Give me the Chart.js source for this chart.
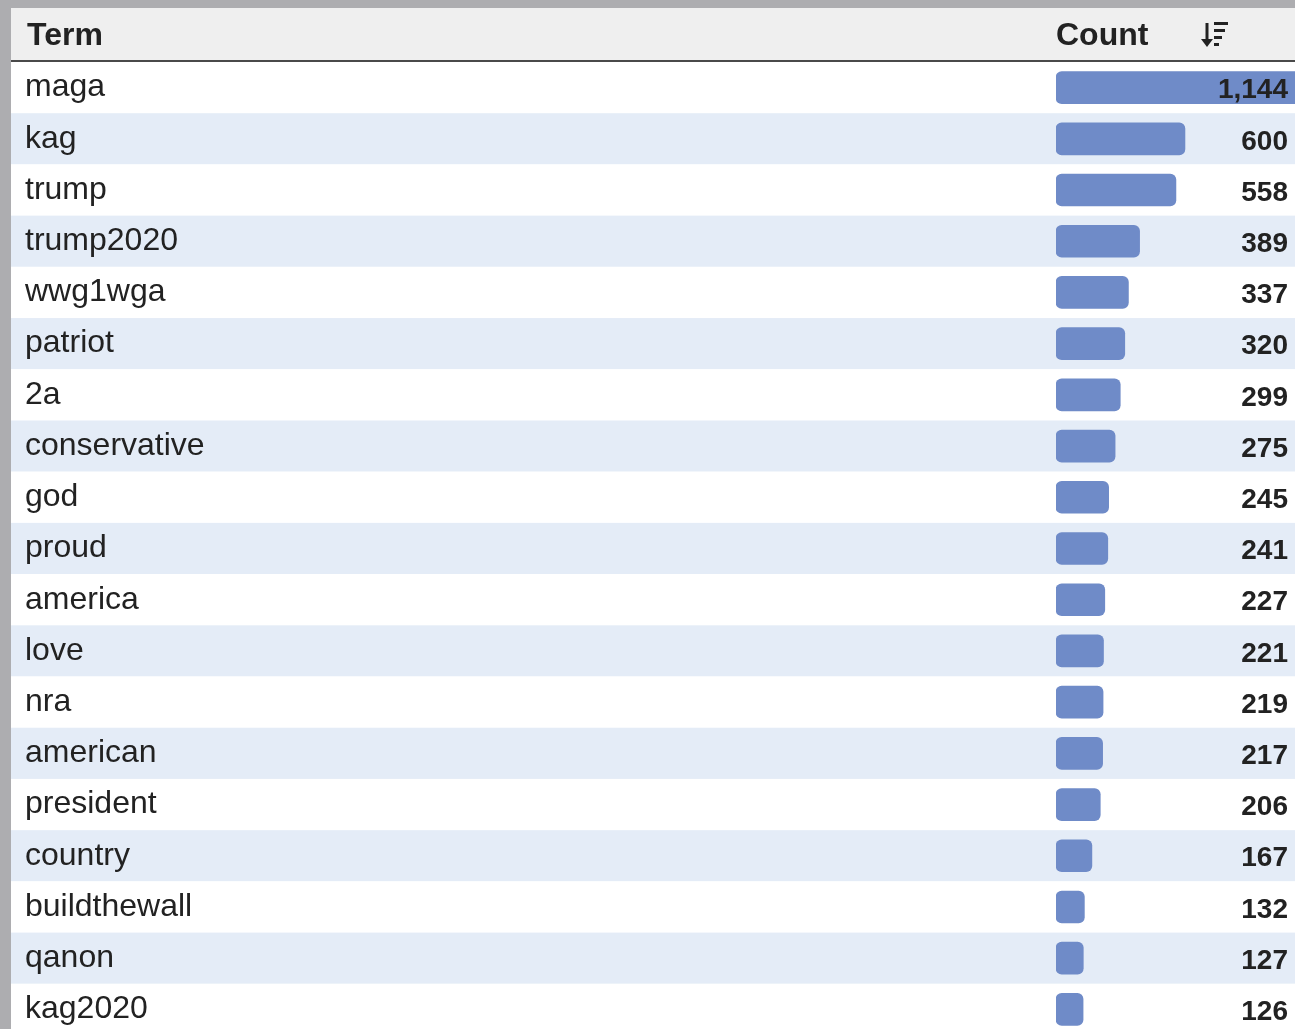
<!DOCTYPE html>
<html>
<head>
<meta charset="utf-8">
<script src="https://cdn.jsdelivr.net/npm/chart.js@4.4.1/dist/chart.umd.min.js"></script>
<style>
  html, body { margin: 0; padding: 0; overflow: hidden; background: #adadb0; }
  #wrap { position: absolute; left: 0; top: 0; width: 1295px; height: 1040px; }
</style>
</head>
<body>
<div id="wrap"><canvas id="termChart" width="1295" height="1040"></canvas></div>
<script>
// term counts, sorted descending
var terms = ["maga", "kag", "trump", "trump2020", "wwg1wga", "patriot", "2a", "conservative", "god", "proud",
  "america", "love", "nra", "american", "president", "country", "buildthewall", "qanon", "kag2020"]
var counts = [1144, 600, 558, 389, 337, 320, 299, 275, 245, 241, 227, 221, 219, 217, 206, 167, 132, 127, 126]
var headers = ["Term", "Count"]

var barColor = "#6f8bc8"
var stripe = "#e4ecf7"
var textColor = "#222222"
var fontFam = "'Liberation Sans', Arial, sans-serif"

//rows, frame and header drawn behind the bars
var tablePlugin = {
  id: 'tableBg',
  beforeDraw: function(chart) {
    var ctx = chart.ctx
    var y = chart.scales.y
    var band = (y.bottom - y.top) / terms.length
    ctx.save()
    ctx.fillStyle = "#adadb0"
    ctx.fillRect(0, 0, chart.width, chart.height)
    ctx.fillStyle = "#ffffff"
    ctx.fillRect(11, 8, chart.width - 11, chart.height - 8)
    for (var i = 0; i < terms.length; i++) {
      var cy = y.getPixelForValue(i)
      ctx.fillStyle = i % 2 == 0 ? "#ffffff" : stripe
      ctx.fillRect(11, cy - band / 2, chart.width - 11, band)
    }
    //header
    ctx.fillStyle = "#efefef"
    ctx.fillRect(11, 8, chart.width - 11, 53)
    ctx.fillStyle = "#4a4a4a"
    ctx.fillRect(11, 60, chart.width - 11, 2)
    ctx.fillStyle = textColor
    ctx.font = "bold 32px " + fontFam
    ctx.textBaseline = "middle"
    ctx.textAlign = "left"
    ctx.fillText(headers[0], 27, 36)
    ctx.fillText(headers[1], chart.chartArea.left, 36)
    //sort icon
    ctx.strokeStyle = textColor
    ctx.lineWidth = 3
    ctx.beginPath()
    ctx.moveTo(1207, 23); ctx.lineTo(1207, 44)
    ctx.stroke()
    ctx.beginPath()
    ctx.moveTo(1201, 39); ctx.lineTo(1207, 47); ctx.lineTo(1213, 39)
    ctx.closePath()
    ctx.fillStyle = textColor
    ctx.fill()
    ctx.fillRect(1214, 22, 14, 3)
    ctx.fillRect(1214, 29, 11, 3)
    ctx.fillRect(1214, 36, 8, 3)
    ctx.fillRect(1214, 43, 5, 3)
    ctx.restore()
  },
  afterDatasetsDraw: function(chart) {
    var ctx = chart.ctx
    var meta = chart.getDatasetMeta(0)
    ctx.save()
    ctx.fillStyle = textColor
    ctx.font = "bold 28px " + fontFam
    ctx.textAlign = "right"
    ctx.textBaseline = "middle"
    meta.data.forEach(function(bar, i) {
      ctx.fillText(counts[i].toLocaleString('en-US'), 1288, bar.y + 3)
    })
    ctx.restore()
  }
}

new Chart(document.getElementById('termChart'), {
  type: 'bar',
  data: {
    labels: terms,
    datasets: [{
      data: counts,
      backgroundColor: barColor,
      borderRadius: 6,
      borderSkipped: false,
      barThickness: 32
    }]
  },
  options: {
    indexAxis: 'y',
    responsive: false,
    animation: false,
    layout: {
      padding: { left: 25, top: 62, right: 0, bottom: 5 }
    },
    plugins: {
      legend: { display: false },
      tooltip: { enabled: false }
    },
    scales: {
      x: {
        display: false,
        min: 0,
        max: 1112
      },
      y: {
        grid: { display: false },
        border: { display: false },
        afterFit: function(scale) {
          scale.width = 1031
          scale.paddingTop = 0
          scale.paddingBottom = 0
        },
        ticks: {
          crossAlign: 'far',
          color: textColor,
          font: { family: fontFam, size: 32 }
        }
      }
    }
  },
  plugins: [tablePlugin]
})
</script>
</body>
</html>
